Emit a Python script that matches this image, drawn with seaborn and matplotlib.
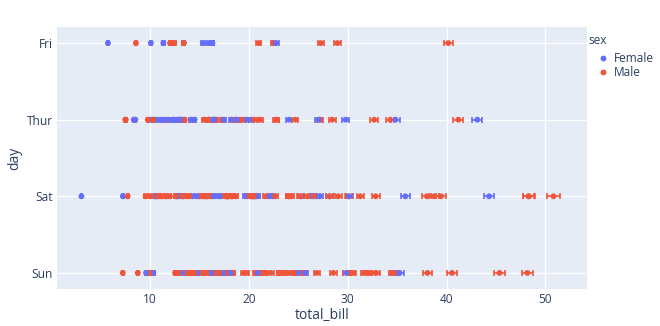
import matplotlib
matplotlib.use("Agg")
import matplotlib.pyplot as plt
import pandas as pd
import seaborn as sns

total_bill = [
    16.99, 10.34, 21.01, 23.68, 24.59, 25.29, 8.77, 26.88, 15.04, 14.78,
    10.27, 35.26, 15.42, 18.43, 14.83, 21.58, 10.33, 16.29, 16.97, 20.65,
    17.92, 20.29, 15.77, 39.42, 19.82, 17.81, 13.37, 12.69, 21.70, 19.65,
    9.55, 18.35, 15.06, 20.69, 17.78, 24.06, 16.31, 16.93, 18.69, 31.27,
    16.04, 17.46, 13.94, 9.68, 30.40, 18.29, 22.23, 32.40, 28.55, 18.04,
    12.54, 10.29, 34.81, 9.94, 25.56, 19.49, 38.01, 26.41, 11.24, 48.27,
    20.29, 13.81, 11.02, 18.29, 17.59, 20.08, 16.45, 3.07, 20.23, 15.01,
    12.02, 17.07, 26.86, 25.28, 14.73, 10.51, 17.92, 27.20, 22.76, 17.29,
    19.44, 16.66, 10.07, 32.68, 15.98, 34.83, 13.03, 18.28, 24.71, 21.16,
    28.97, 22.49, 5.75, 16.32, 22.75, 40.17, 27.28, 12.03, 21.01, 12.46,
    11.35, 15.38, 44.30, 22.42, 20.92, 15.36, 20.49, 25.21, 18.24, 14.31,
    14.00, 7.25, 38.07, 23.95, 25.71, 17.31, 29.93, 10.65, 12.43, 24.08,
    11.69, 13.42, 14.26, 15.95, 12.48, 29.80, 8.52, 14.52, 11.38, 22.82,
    19.08, 20.27, 11.17, 12.26, 18.26, 8.51, 10.33, 14.15, 16.00, 13.16,
    17.47, 34.30, 41.19, 27.05, 16.43, 8.35, 18.64, 11.87, 9.78, 7.51,
    14.07, 13.13, 17.26, 24.55, 19.77, 29.85, 48.17, 25.00, 13.39, 16.49,
    21.50, 12.66, 16.21, 13.81, 17.51, 24.52, 20.76, 31.71, 10.59, 10.63,
    50.81, 15.81, 7.25, 31.85, 16.82, 32.90, 17.89, 14.48, 9.60, 34.63,
    34.65, 23.33, 45.35, 23.17, 40.55, 20.69, 20.90, 30.46, 18.15, 23.10,
    15.69, 19.81, 28.44, 15.48, 16.58, 7.56, 10.34, 43.11, 13.00, 13.51,
    18.71, 12.74, 13.00, 16.40, 20.53, 16.47, 26.59, 38.73, 24.27, 12.76,
    30.06, 25.89, 48.33, 13.27, 28.17, 12.90, 28.15, 11.59, 7.74, 30.14,
    12.16, 13.42, 8.58, 15.98, 13.42, 16.27, 10.09, 20.45, 13.28, 22.12,
    24.01, 15.69, 11.61, 10.77, 15.53, 10.07, 12.60, 32.83, 35.83, 29.03,
    27.18, 22.67, 17.82, 18.78,
]

sex_code = [
    "F", "M", "M", "M", "F", "M", "M", "M", "M", "M",
    "M", "F", "M", "M", "F", "M", "F", "M", "F", "M",
    "M", "F", "F", "M", "M", "M", "M", "M", "M", "F",
    "M", "M", "F", "F", "M", "M", "M", "F", "M", "M",
    "M", "M", "M", "M", "M", "M", "M", "M", "M", "M",
    "M", "F", "F", "M", "M", "M", "M", "F", "M", "M",
    "M", "M", "M", "M", "M", "M", "F", "F", "M", "M",
    "M", "F", "F", "F", "F", "M", "M", "M", "M", "M",
    "M", "M", "F", "M", "M", "F", "M", "M", "M", "M",
    "M", "M", "F", "F", "F", "M", "M", "M", "M", "M",
    "F", "F", "F", "F", "F", "M", "M", "M", "M", "F",
    "M", "F", "M", "M", "F", "F", "M", "F", "F", "F",
    "M", "F", "M", "M", "F", "F", "M", "F", "F", "M",
    "M", "F", "F", "F", "F", "F", "F", "F", "M", "F",
    "F", "M", "M", "F", "F", "F", "F", "F", "M", "M",
    "M", "M", "M", "M", "M", "F", "M", "F", "F", "M",
    "M", "M", "F", "M", "F", "M", "M", "M", "F", "F",
    "M", "M", "M", "M", "M", "M", "M", "M", "F", "M",
    "M", "M", "M", "M", "M", "M", "F", "M", "F", "M",
    "M", "F", "M", "M", "M", "M", "M", "F", "F", "M",
    "M", "F", "F", "F", "M", "F", "M", "M", "M", "F",
    "M", "M", "M", "F", "F", "F", "M", "M", "M", "F",
    "M", "F", "M", "F", "M", "F", "F", "M", "M", "F",
    "M", "M", "M", "M", "M", "M", "M", "M", "F", "M",
    "F", "M", "M", "F",
]

day = [
    "Sun", "Sun", "Sun", "Sun", "Sun", "Sun", "Sun", "Sun", "Sun", "Sun",
    "Sun", "Sun", "Sun", "Sun", "Sun", "Sun", "Sun", "Sun", "Sun", "Sat",
    "Sat", "Sat", "Sat", "Sat", "Sat", "Sat", "Sat", "Sat", "Sat", "Sat",
    "Sat", "Sat", "Sat", "Sat", "Sat", "Sat", "Sat", "Sat", "Sat", "Sat",
    "Sat", "Sun", "Sun", "Sun", "Sun", "Sun", "Sun", "Sun", "Sun", "Sun",
    "Sun", "Sun", "Sun", "Sun", "Sun", "Sun", "Sat", "Sat", "Sat", "Sat",
    "Sat", "Sat", "Sat", "Sat", "Sat", "Sat", "Sat", "Sat", "Sat", "Sat",
    "Sat", "Sat", "Sat", "Sat", "Sat", "Sat", "Sat", "Thur", "Thur", "Thur",
    "Thur", "Thur", "Thur", "Thur", "Thur", "Thur", "Thur", "Thur", "Thur", "Thur",
    "Fri", "Fri", "Fri", "Fri", "Fri", "Fri", "Fri", "Fri", "Fri", "Fri",
    "Fri", "Fri", "Sat", "Sat", "Sat", "Sat", "Sat", "Sat", "Sat", "Sat",
    "Sat", "Sat", "Sun", "Sun", "Sun", "Sun", "Sun", "Thur", "Thur", "Thur",
    "Thur", "Thur", "Thur", "Thur", "Thur", "Thur", "Thur", "Thur", "Thur", "Thur",
    "Thur", "Thur", "Thur", "Thur", "Thur", "Thur", "Thur", "Thur", "Thur", "Thur",
    "Thur", "Thur", "Thur", "Thur", "Thur", "Thur", "Thur", "Thur", "Thur", "Thur",
    "Sun", "Sun", "Sun", "Sun", "Sun", "Sun", "Sun", "Sun", "Sun", "Sun",
    "Sun", "Sun", "Sun", "Sun", "Sun", "Sun", "Sun", "Sun", "Sat", "Sat",
    "Sat", "Sat", "Sun", "Sun", "Sun", "Sun", "Sun", "Sun", "Sun", "Sun",
    "Sun", "Sun", "Sun", "Sun", "Sun", "Sun", "Sun", "Sun", "Sun", "Sun",
    "Sun", "Thur", "Thur", "Thur", "Thur", "Thur", "Thur", "Thur", "Thur", "Thur",
    "Thur", "Thur", "Thur", "Thur", "Thur", "Thur", "Sat", "Sat", "Sat", "Sat",
    "Sat", "Sat", "Sat", "Sat", "Sat", "Sat", "Sat", "Sat", "Sat", "Sat",
    "Fri", "Fri", "Fri", "Fri", "Fri", "Fri", "Fri", "Sat", "Sat", "Sat",
    "Sat", "Sat", "Sat", "Sat", "Sat", "Sat", "Sat", "Sat", "Sat", "Sat",
    "Sat", "Sat", "Sat", "Thur",
]

day_order = ["Fri", "Thur", "Sat", "Sun"]
sex_order = ["Female", "Male"]
sex_names = {"F": "Female", "M": "Male"}
x_ticks = [10, 20, 30, 40, 50]
err_frac = 0.012  # relative half-width of horizontal error bars

colors = {"Female": "#636EFA", "Male": "#EF553B"}
txt = "#2a3f5f"

df = pd.DataFrame({
    "total_bill": total_bill,
    "day": day,
    "sex": [sex_names[s] for s in sex_code],
})

sns.set_theme(style="darkgrid", rc={
    "axes.facecolor": "#E5ECF6",
    "grid.color": "white",
    "grid.linewidth": 1.0,
    "axes.edgecolor": "#E5ECF6",
    "xtick.color": txt,
    "ytick.color": txt,
    "text.color": txt,
    "axes.labelcolor": txt,
})
plt.rcParams["font.family"] = ["Open Sans", "DejaVu Sans"]

fig = plt.figure(figsize=(6.6, 3.26), dpi=100)
ax = fig.add_axes([57 / 660, 1 - 289 / 326, (587 - 57) / 660, (289 - 27) / 326])

# error bars (per sex, beneath markers)
pos = {d: i for i, d in enumerate(day_order)}
for s in sex_order:
    sub = df[df["sex"] == s]
    ax.errorbar(sub["total_bill"], sub["day"].map(pos),
                xerr=sub["total_bill"] * err_frac, fmt="none",
                ecolor=colors[s], elinewidth=1.2, capsize=2.2,
                capthick=1.2, zorder=2)

sns.stripplot(data=df, x="total_bill", y="day", hue="sex",
              order=day_order, hue_order=sex_order, palette=colors,
              jitter=False, dodge=False, size=4.2, linewidth=0,
              ax=ax, zorder=3)

ax.set_ylim(3.21, -0.21)
ax.set_xlim(0.6, 54.2)
ax.set_xticks(x_ticks)
ax.set_xticklabels([str(t) for t in x_ticks])
ax.grid(True, axis="both", color="white", linewidth=1.0)
ax.set_axisbelow(True)
for sp in ax.spines.values():
    sp.set_visible(False)
ax.tick_params(axis="both", length=0, labelsize=8.6, colors=txt)
ax.tick_params(axis="y", pad=3)
ax.tick_params(axis="x", pad=3)
ax.set_xlabel("total_bill", fontsize=10, color=txt, labelpad=1)
ax.set_ylabel("day", fontsize=10, color=txt, labelpad=3)

handles, labels = ax.get_legend_handles_labels()
if ax.legend_ is not None:
    ax.legend_.remove()
leg = fig.legend(handles[:2], labels[:2], loc="upper left",
                 bbox_to_anchor=(598 / 660, 1 - 52 / 326),
                 frameon=False, fontsize=8.6,
                 handletextpad=0.5, labelspacing=0.12,
                 borderaxespad=0, borderpad=0, handlelength=0.8,
                 markerscale=1.0)
for t in leg.get_texts():
    t.set_color(txt)
fig.text(588 / 660, 1 - 41 / 326, "sex", fontsize=8.6, color=txt,
         ha="left", va="center")

fig.savefig("out.png", dpi=100, facecolor="white")
